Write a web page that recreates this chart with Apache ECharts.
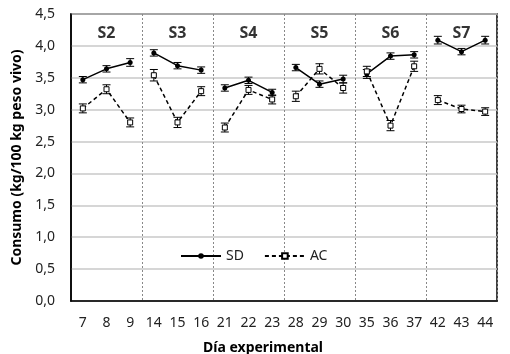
<!DOCTYPE html>
<html>
<head>
<meta charset="utf-8">
<script src="https://cdn.jsdelivr.net/npm/echarts@6/dist/echarts.min.js"></script>
<style>
  html, body { margin: 0; padding: 0; background: #fff; }
  #chart { width: 510px; height: 354px; }
</style>
</head>
<body>
<div id="chart"></div>
<script>
// días experimentales (eje x)
const days = ["7", "8", "9", "14", "15", "16", "21", "22", "23", "28", "29", "30", "35", "36", "37", "42", "43", "44"];
// semanas
const groups = ["S2", "S3", "S4", "S5", "S6", "S7"];
// consumo SD
const sd = [3.47, 3.64, 3.74, 3.89, 3.69, 3.62, 3.34, 3.46, 3.27, 3.66, 3.40, 3.48, 3.56, 3.84, 3.86, 4.09, 3.91, 4.09];
const sdErr = [0.05, 0.05, 0.06, 0.05, 0.05, 0.05, 0.05, 0.05, 0.05, 0.05, 0.05, 0.06, 0.07, 0.05, 0.05, 0.06, 0.05, 0.06];
// consumo AC
const ac = [3.02, 3.32, 2.80, 3.54, 2.80, 3.29, 2.72, 3.31, 3.16, 3.21, 3.64, 3.34, 3.60, 2.75, 3.68, 3.15, 3.01, 2.97];
const acErr = [0.07, 0.07, 0.07, 0.09, 0.08, 0.07, 0.07, 0.07, 0.07, 0.08, 0.08, 0.08, 0.08, 0.08, 0.08, 0.07, 0.06, 0.06];
const yMin = 0, yMax = 4.5, yStep = 0.5;
const labelY = 4.2;

const fontFamily = "Noto Sans";
const chart = echarts.init(document.getElementById("chart"));

// una serie por semana para que las líneas no se unan entre semanas
function inGroup(arr, g) {
  return arr.map((v, i) => (Math.floor(i / 3) === g ? v : null));
}

function errBar(color) {
  return function (params, api) {
    const x = api.value(0);
    const lo = api.coord([x, api.value(1) - api.value(2)]);
    const hi = api.coord([x, api.value(1) + api.value(2)]);
    const w = 4;
    const st = { stroke: color, lineWidth: 1 };
    return {
      type: "group",
      children: [
        { type: "line", shape: { x1: lo[0], y1: lo[1], x2: hi[0], y2: hi[1] }, style: st },
        { type: "line", shape: { x1: lo[0] - w, y1: lo[1], x2: lo[0] + w, y2: lo[1] }, style: st },
        { type: "line", shape: { x1: hi[0] - w, y1: hi[1], x2: hi[0] + w, y2: hi[1] }, style: st },
      ],
    };
  };
}

const series = [];
groups.forEach((g, gi) => {
  series.push({
    name: "SD",
    type: "line",
    data: inGroup(sd, gi),
    symbol: "circle",
    symbolSize: 5,
    itemStyle: { color: "#000" },
    lineStyle: { color: "#000", width: 1.5 },
    z: 4,
  });
  series.push({
    name: "AC",
    type: "line",
    data: inGroup(ac, gi),
    symbol: "rect",
    symbolSize: 5,
    itemStyle: { color: "#fff", borderColor: "#000", borderWidth: 1 },
    lineStyle: { color: "#000", width: 1.5, type: [4, 3] },
    z: 4,
  });
});
series.push({
  type: "custom",
  renderItem: errBar("#000"),
  data: sd.map((v, i) => [i, v, sdErr[i]]),
  z: 3,
  silent: true,
});
series.push({
  type: "custom",
  renderItem: errBar("#000"),
  data: ac.map((v, i) => [i, v, acErr[i]]),
  z: 3,
  silent: true,
});
// etiquetas de semana
series.push({
  type: "scatter",
  symbolSize: 0,
  data: groups.map((g, gi) => [gi * 3 + 1, labelY]),
  label: {
    show: true,
    position: "inside",
    formatter: (p) => groups[p.dataIndex],
    fontFamily: fontFamily,
    fontWeight: "bold",
    fontSize: 16,
    color: "#000",
  },
  silent: true,
});

const options = {
  animation: false,
  grid: {
    left: 71,
    right: 13,
    top: 14,
    bottom: 53,
    show: true,
    borderColor: "#000",
    borderWidth: 1.5,
  },
  legend: {
    data: ["SD", "AC"],
    left: 175,
    top: 244,
    itemWidth: 40,
    itemHeight: 7,
    itemGap: 20,
    textStyle: { fontFamily: fontFamily, fontSize: 14, color: "#222" },
  },
  xAxis: {
    type: "category",
    data: days,
    boundaryGap: true,
    axisLine: { lineStyle: { color: "#000", width: 1.5 } },
    axisTick: { show: false },
    axisLabel: { fontFamily: fontFamily, fontSize: 14, color: "#222", margin: 15, interval: 0 },
    splitLine: {
      show: true,
      interval: (idx) => idx > 0 && idx % 3 === 0,
      lineStyle: { color: "#888", type: [2, 2], width: 1 },
    },
  },
  yAxis: {
    type: "value",
    min: yMin,
    max: yMax,
    interval: yStep,
    name: "Consumo (kg/100 kg peso vivo)",
    nameLocation: "middle",
    nameGap: 47,
    nameTextStyle: { fontFamily: fontFamily, fontSize: 14, fontWeight: "bold", color: "#000" },
    axisLine: { show: true, lineStyle: { color: "#000", width: 1.5 } },
    axisTick: { show: false },
    axisLabel: {
      fontFamily: fontFamily,
      fontSize: 14,
      color: "#222",
      margin: 16,
      formatter: (v) => v.toFixed(1).replace(".", ","),
    },
    splitLine: { lineStyle: { color: "#c8c8c8", width: 1.5 } },
  },
  graphic: [
    {
      type: "text",
      left: 203,
      top: 341,
      style: {
        text: "Día experimental",
        fontFamily: fontFamily,
        fontSize: 14,
        fontWeight: "bold",
        fill: "#000",
      },
    },
  ],
  series: series,
};

chart.setOption(options);
</script>
</body>
</html>
